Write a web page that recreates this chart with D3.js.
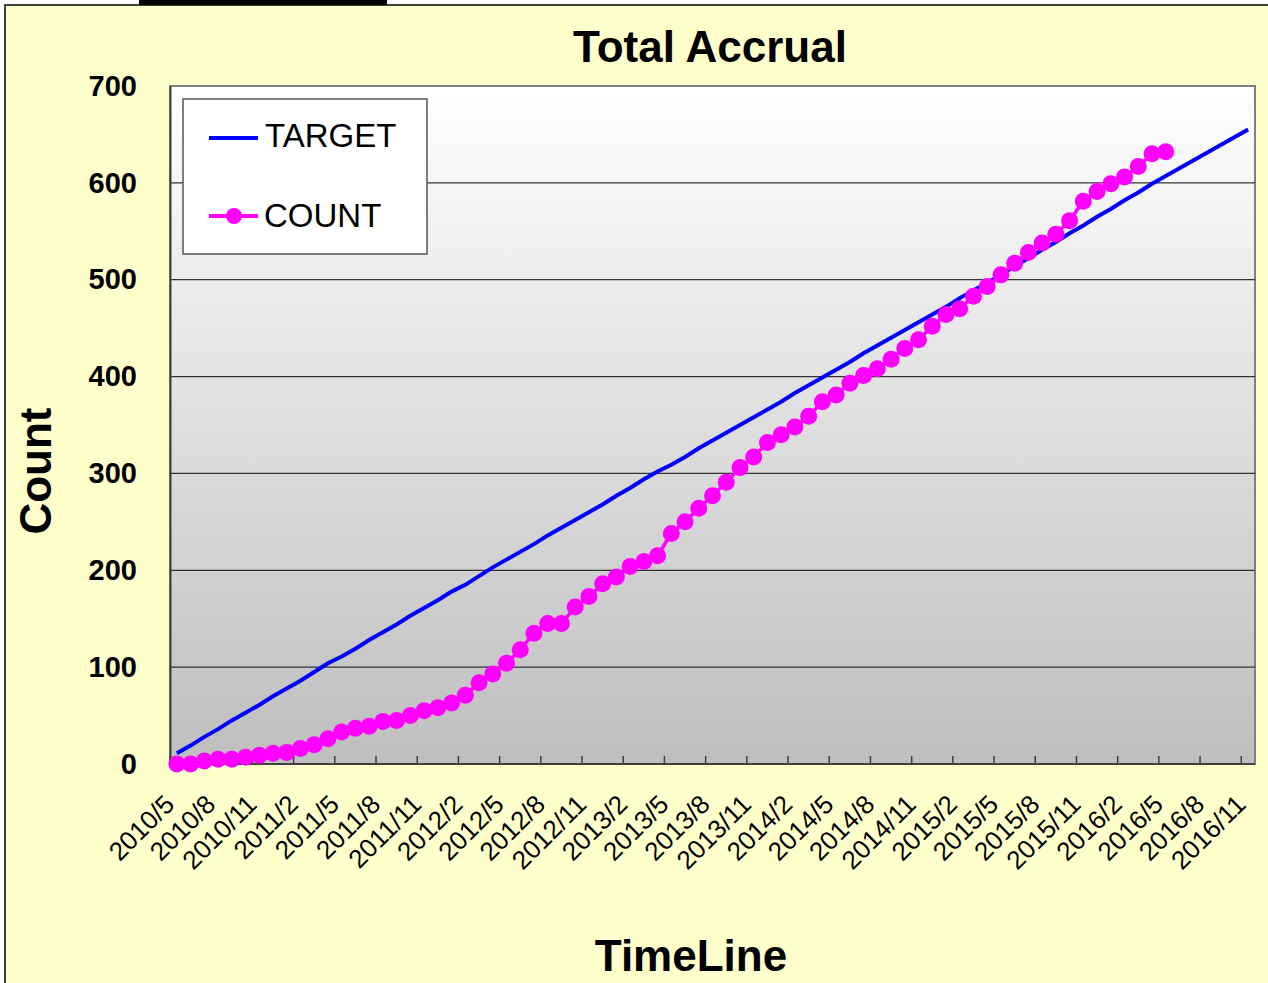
<!DOCTYPE html>
<html>
<head>
<meta charset="utf-8">
<script src="https://cdn.jsdelivr.net/npm/d3@7"></script>
<style>
body { margin: 0; background: #fff; }
text { font-family: "Liberation Sans", Arial, sans-serif; }
</style>
</head>
<body>
<div id="svg"></div>
<script>
// categories: one per month
var months = ["2010/5","2010/6","2010/7","2010/8","2010/9","2010/10","2010/11","2010/12",
  "2011/1","2011/2","2011/3","2011/4","2011/5","2011/6","2011/7","2011/8","2011/9","2011/10","2011/11","2011/12",
  "2012/1","2012/2","2012/3","2012/4","2012/5","2012/6","2012/7","2012/8","2012/9","2012/10","2012/11","2012/12",
  "2013/1","2013/2","2013/3","2013/4","2013/5","2013/6","2013/7","2013/8","2013/9","2013/10","2013/11","2013/12",
  "2014/1","2014/2","2014/3","2014/4","2014/5","2014/6","2014/7","2014/8","2014/9","2014/10","2014/11","2014/12",
  "2015/1","2015/2","2015/3","2015/4","2015/5","2015/6","2015/7","2015/8","2015/9","2015/10","2015/11","2015/12",
  "2016/1","2016/2","2016/3","2016/4","2016/5","2016/6","2016/7","2016/8","2016/9","2016/10","2016/11"]

// labels shown every 3 months
var tickLabels = ["2010/5","2010/8","2010/11","2011/2","2011/5","2011/8","2011/11","2012/2","2012/5",
  "2012/8","2012/11","2013/2","2013/5","2013/8","2013/11","2014/2","2014/5","2014/8","2014/11",
  "2015/2","2015/5","2015/8","2015/11","2016/2","2016/5","2016/8","2016/11"]

var target = [11,19,28,36,45,53,61,70,78,86,95,104,111,119,128,136,144,153,161,169,
  178,185,194,203,211,219,227,236,244,252,260,268,277,285,294,302,309,317,326,334,
  342,350,358,366,374,383,391,399,407,415,424,432,440,448,456,464,472,481,489,497,
  505,514,522,531,539,548,556,565,573,582,590,599,607,615,623,631,639,647,655]

var count = [0,0,3,5,5,7,9,11,12,16,20,26,33,37,39,44,45,50,55,58,
  63,71,84,93,104,118,135,145,145,162,173,186,193,204,209,215,238,250,264,277,
  291,306,317,332,340,348,359,374,381,393,401,408,418,429,438,452,464,470,483,493,
  505,517,528,538,547,561,581,591,599,606,617,630,632]

var yTicks = [0,100,200,300,400,500,600,700]

var W = 1268, H = 983
var plot = {left: 170, right: 1255, top: 86, bottom: 764}

var svg = d3.select("#svg")
  .append("svg")
    .attr("width", W)
    .attr("height", H)

// chart area background
svg.append("rect")
  .attr("x", 5).attr("y", 5)
  .attr("width", 1300).attr("height", 1000)
  .attr("fill", "#FFFFCC")
  .attr("stroke", "#000")
  .attr("stroke-width", 1.5)

svg.append("rect")
  .attr("x", 139).attr("y", 0)
  .attr("width", 248).attr("height", 5)
  .attr("fill", "#000")

// plot area gradient
var defs = svg.append("defs")
var grad = defs.append("linearGradient")
  .attr("id", "bg")
  .attr("x1", 0).attr("y1", 0).attr("x2", 0).attr("y2", 1)
grad.append("stop").attr("offset", "0%").attr("stop-color", "#FFFFFF")
grad.append("stop").attr("offset", "100%").attr("stop-color", "#BEBEBE")

svg.append("rect")
  .attr("x", plot.left).attr("y", plot.top)
  .attr("width", plot.right - plot.left)
  .attr("height", plot.bottom - plot.top)
  .attr("fill", "url(#bg)")
  .attr("stroke", "#808080")
  .attr("stroke-width", 2)

var x = d3.scaleBand()
  .domain(months)
  .range([plot.left, plot.right])
  .padding(0)

var y = d3.scaleLinear()
  .domain([0, 700])
  .range([plot.bottom, plot.top])

function cx(m) { return x(m) + x.bandwidth() / 2 }

// gridlines
svg.append("g")
  .selectAll("line")
  .data(yTicks.filter(function(d) { return d > 0 && d < 700 }))
  .enter()
  .append("line")
  .attr("x1", plot.left).attr("x2", plot.right)
  .attr("y1", function(d) { return y(d) })
  .attr("y2", function(d) { return y(d) })
  .attr("stroke", "#333")
  .attr("stroke-width", 1.3)

// y axis
var yAxis = svg.append("g")
  .attr("transform", "translate(" + plot.left + ",0)")
  .call(d3.axisLeft(y).tickValues(yTicks).tickSize(0).tickPadding(33))
yAxis.select(".domain").attr("stroke", "#404040").attr("stroke-width", 2)
yAxis.selectAll("text")
  .style("font-family", "'Liberation Sans', Arial, sans-serif")
  .style("font-size", "29px")
  .style("font-weight", "bold")
  .attr("fill", "#000")

// x axis line and inside ticks
svg.append("line")
  .attr("x1", plot.left).attr("x2", plot.right)
  .attr("y1", plot.bottom).attr("y2", plot.bottom)
  .attr("stroke", "#404040")
  .attr("stroke-width", 2)

svg.append("g")
  .selectAll("line")
  .data(tickLabels)
  .enter()
  .append("line")
  .attr("x1", function(d) { return x(d) })
  .attr("x2", function(d) { return x(d) })
  .attr("y1", plot.bottom)
  .attr("y2", plot.bottom - 8)
  .attr("stroke", "#404040")
  .attr("stroke-width", 1.5)

svg.append("g")
  .selectAll("text")
  .data(tickLabels)
  .enter()
  .append("text")
  .attr("transform", function(d) { return "translate(" + (cx(d) - 1) + "," + (plot.bottom + 42) + ") rotate(-45)" })
  .attr("text-anchor", "end")
  .style("font-size", "26px")
  .attr("fill", "#000")
  .text(function(d) { return d })

// target line
var line = d3.line()
  .x(function(d, i) { return cx(months[i]) })
  .y(function(d) { return y(d) })

svg.append("path")
  .datum(target)
  .attr("d", line)
  .attr("fill", "none")
  .attr("stroke", "#0000FF")
  .attr("stroke-width", 4)

// count line + markers
svg.append("path")
  .datum(count)
  .attr("d", line)
  .attr("fill", "none")
  .attr("stroke", "#FF00FF")
  .attr("stroke-width", 3.5)

svg.append("g")
  .selectAll("circle")
  .data(count)
  .enter()
  .append("circle")
  .attr("cx", function(d, i) { return cx(months[i]) })
  .attr("cy", function(d) { return y(d) })
  .attr("r", 8.5)
  .attr("fill", "#FF00FF")

// legend
var legend = svg.append("g")
legend.append("rect")
  .attr("x", 183).attr("y", 99)
  .attr("width", 244).attr("height", 155)
  .attr("fill", "#fff")
  .attr("stroke", "#555")
  .attr("stroke-width", 1.5)
legend.append("line")
  .attr("x1", 209).attr("x2", 258)
  .attr("y1", 138).attr("y2", 138)
  .attr("stroke", "#0000FF").attr("stroke-width", 4)
legend.append("text")
  .attr("x", 265).attr("y", 147)
  .style("font-size", "33px")
  .text("TARGET")
legend.append("line")
  .attr("x1", 209).attr("x2", 258)
  .attr("y1", 216).attr("y2", 216)
  .attr("stroke", "#FF00FF").attr("stroke-width", 4)
legend.append("circle")
  .attr("cx", 234).attr("cy", 216).attr("r", 8)
  .attr("fill", "#FF00FF")
legend.append("text")
  .attr("x", 264).attr("y", 227)
  .style("font-size", "33px")
  .text("COUNT")

// titles
svg.append("text")
  .attr("x", 710).attr("y", 62)
  .attr("text-anchor", "middle")
  .style("font-size", "44px")
  .style("font-weight", "bold")
  .text("Total Accrual")

svg.append("text")
  .attr("x", 691).attr("y", 971)
  .attr("text-anchor", "middle")
  .style("font-size", "44px")
  .style("font-weight", "bold")
  .text("TimeLine")

svg.append("text")
  .attr("transform", "translate(51,471) rotate(-90)")
  .attr("text-anchor", "middle")
  .style("font-size", "44px")
  .style("font-weight", "bold")
  .text("Count")
</script>
</body>
</html>
